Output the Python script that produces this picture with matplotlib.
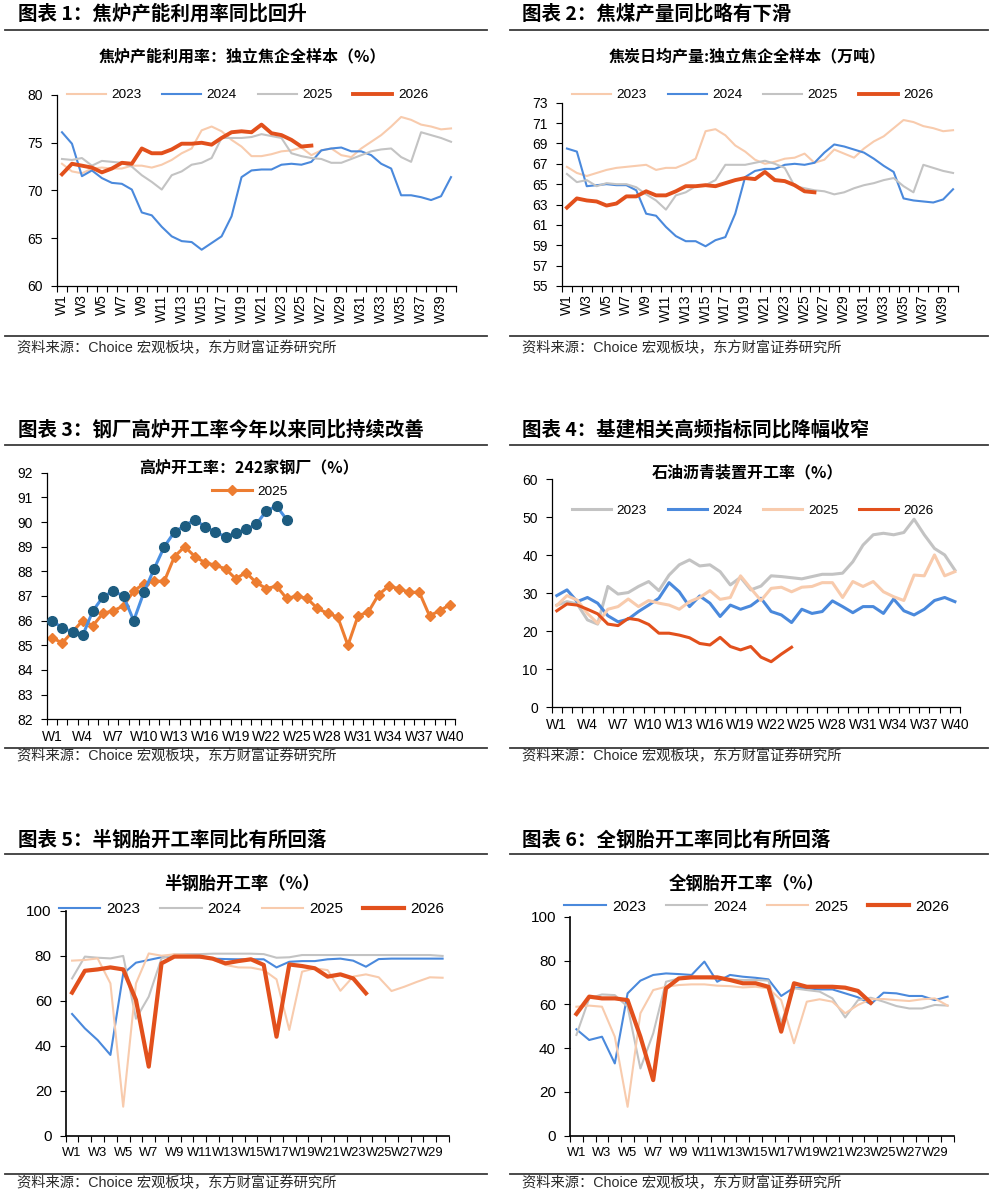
import matplotlib
matplotlib.use('Agg')
import matplotlib.pyplot as plt
from matplotlib.lines import Line2D
import numpy as np

# ---------------- DATA ----------------
weeks40 = ["W%d" % i for i in range(1, 41)]
weeks30 = ["W%d" % i for i in range(1, 31)]

# Chart 1: coke oven utilisation (%)
coke_util_2023 = [72.8, 72.0, 71.8, 72.3, 72.4, 72.3, 72.3, 72.6, 72.6, 72.4,
                  72.7, 73.2, 73.9, 74.4, 76.3, 76.7, 76.2, 75.3, 74.6, 73.6,
                  73.6, 73.8, 74.1, 74.2, 74.5, 73.7, 74.2, 74.4, 73.7, 73.5,
                  74.4, 75.1, 75.8, 76.7, 77.7, 77.4, 76.9, 76.7, 76.4, 76.5]
coke_util_2024 = [76.1, 74.9, 71.5, 72.1, 71.3, 70.8, 70.7, 70.1, 67.7, 67.4,
                  66.2, 65.2, 64.7, 64.6, 63.8, 64.5, 65.2, 67.3, 71.4, 72.1,
                  72.2, 72.2, 72.7, 72.8, 72.7, 73.0, 74.2, 74.4, 74.5, 74.1,
                  74.1, 73.7, 72.8, 72.3, 69.5, 69.5, 69.3, 69.0, 69.4, 71.4]
coke_util_2025 = [73.3, 73.2, 73.4, 72.6, 73.1, 73.0, 72.9, 72.5, 71.6, 70.9,
                  70.1, 71.6, 72.0, 72.7, 72.9, 73.4, 75.5, 75.5, 75.5, 75.6,
                  75.9, 75.7, 75.5, 73.9, 73.6, 73.4, 73.3, 72.9, 72.9, 73.3,
                  73.7, 74.1, 74.3, 74.4, 73.5, 73.0, 76.1, 75.8, 75.5, 75.1]
coke_util_2026 = [71.7, 72.8, 72.6, 72.4, 71.9, 72.3, 72.9, 72.8, 74.4, 73.9,
                  73.9, 74.3, 74.9, 74.9, 75.0, 74.8, 75.5, 76.1, 76.2, 76.1,
                  76.9, 76.0, 75.8, 75.3, 74.6, 74.7]

# Chart 2: coke daily output (10k t)
coke_out_2023 = [66.7, 66.1, 65.8, 66.1, 66.4, 66.6, 66.7, 66.8, 66.9, 66.4,
                 66.6, 66.6, 67.0, 67.5, 70.2, 70.4, 69.8, 68.8, 68.2, 67.4,
                 67.0, 67.2, 67.5, 67.6, 68.0, 67.1, 67.4, 68.4, 68.0, 67.6,
                 68.5, 69.2, 69.7, 70.5, 71.3, 71.1, 70.7, 70.5, 70.2, 70.3]
coke_out_2024 = [68.5, 68.2, 64.8, 64.9, 65.0, 64.9, 64.9, 64.4, 62.1, 61.9,
                 60.8, 59.9, 59.4, 59.4, 58.9, 59.5, 59.8, 62.1, 65.7, 66.3,
                 66.5, 66.5, 66.9, 67.0, 66.9, 67.1, 68.1, 68.9, 68.7, 68.4,
                 68.1, 67.5, 66.8, 66.2, 63.6, 63.4, 63.3, 63.2, 63.5, 64.5]
coke_out_2025 = [66.0, 65.2, 65.4, 64.8, 65.1, 65.0, 65.0, 64.7, 64.0, 63.4,
                 62.5, 63.9, 64.2, 64.8, 64.9, 65.4, 66.9, 66.9, 66.9, 67.1,
                 67.3, 67.0, 66.6, 64.8, 64.6, 64.4, 64.3, 64.0, 64.2, 64.6,
                 64.9, 65.1, 65.4, 65.6, 64.8, 64.2, 66.9, 66.6, 66.3, 66.1]
coke_out_2026 = [62.7, 63.6, 63.4, 63.3, 62.9, 63.1, 63.8, 63.8, 64.3, 63.9,
                 63.9, 64.3, 64.8, 64.8, 64.9, 64.8, 65.1, 65.4, 65.6, 65.5,
                 66.2, 65.4, 65.3, 64.9, 64.3, 64.2]

# Chart 3: blast furnace operating rate, 242 mills (%)
bf_2025 = [85.3, 85.1, 85.55, 86.0, 85.8, 86.3, 86.4, 86.6, 87.2, 87.5,
           87.6, 87.6, 88.6, 89.0, 88.6, 88.35, 88.25, 88.1, 87.7, 87.95,
           87.55, 87.3, 87.4, 86.9, 87.0, 86.9, 86.5, 86.3, 86.15, 85.0,
           86.2, 86.35, 87.05, 87.4, 87.3, 87.15, 87.15, 86.2, 86.4, 86.65]
bf_2026 = [86.0, 85.7, 85.55, 85.4, 86.4, 86.97, 87.2, 87.0, 86.0, 87.15,
           88.1, 89.0, 89.6, 89.85, 90.1, 89.8, 89.6, 89.4, 89.55, 89.7,
           89.9, 90.45, 90.65, 90.1]

# Chart 4: asphalt plant operating rate (%)
asph_2023 = [26.9, 27.8, 27.2, 23.0, 21.9, 31.8, 29.8, 30.2, 31.8, 33.1,
             30.7, 34.8, 37.5, 38.8, 37.2, 37.5, 35.7, 32.2, 34.2, 30.9,
             31.9, 34.6, 34.4, 34.1, 33.8, 34.4, 35.0, 35.0, 35.3, 38.3,
             42.7, 45.4, 45.8, 45.4, 46.0, 49.5, 45.4, 41.8, 40.1, 36.1]
asph_2024 = [29.4, 30.9, 27.8, 28.9, 27.4, 24.1, 22.5, 23.2, 25.2, 26.9,
             28.7, 32.8, 30.4, 26.5, 29.3, 27.4, 23.9, 26.9, 25.8, 26.7,
             28.7, 25.2, 24.3, 22.3, 25.8, 24.7, 25.2, 28.0, 26.5, 24.9,
             26.5, 26.5, 24.7, 28.5, 25.4, 24.3, 25.8, 28.1, 28.9, 27.8]
asph_2025 = [26.8, 29.4, 28.2, 24.7, 22.1, 25.8, 26.5, 28.5, 26.5, 28.1,
             27.4, 26.9, 25.8, 27.8, 28.9, 30.7, 28.4, 28.9, 34.6, 31.3,
             28.1, 31.3, 31.6, 30.4, 31.6, 31.8, 32.8, 32.8, 28.9, 33.1,
             31.8, 33.1, 30.4, 29.1, 28.1, 34.8, 34.6, 40.1, 34.6, 35.7]
asph_2026 = [25.4, 27.2, 26.9, 25.8, 24.6, 21.9, 21.5, 23.4, 23.0, 21.8,
             19.5, 19.5, 19.0, 18.3, 16.8, 16.4, 18.4, 16.0, 15.1, 16.0,
             13.2, 12.0, 14.0, 15.8]

# Chart 5: semi-steel tyre operating rate (%)
semi_2023 = [54.1, 47.7, 42.5, 35.9, 72.0, 76.9, 78.1, 79.3, 79.6, 79.6,
             79.3, 78.7, 78.5, 78.4, 78.4, 78.4, 74.8, 77.3, 77.6, 77.6,
             78.4, 78.7, 77.8, 75.1, 78.5, 78.7, 78.7, 78.7, 78.7, 78.7]
semi_2024 = [69.9, 79.6, 79.1, 78.8, 79.9, 52.0, 61.8, 78.8, 80.6, 80.7,
             80.7, 80.9, 80.9, 80.9, 80.9, 80.7, 79.1, 79.3, 80.3, 80.3,
             80.3, 80.3, 80.3, 80.3, 80.3, 80.3, 80.3, 80.3, 80.3, 79.9]
semi_2025 = [77.8, 78.1, 78.8, 67.7, 12.9, 67.7, 81.0, 80.0, 80.6, 80.3,
             79.6, 78.4, 75.9, 74.8, 74.7, 73.6, 69.5, 47.0, 72.9, 74.4,
             73.6, 64.4, 70.7, 71.7, 70.4, 64.3, 66.2, 68.4, 70.4, 70.2]
semi_2026 = [63.6, 73.3, 73.9, 74.8, 73.9, 60.3, 30.7, 76.6, 79.6, 79.6,
             79.6, 78.7, 76.6, 77.6, 78.4, 75.9, 44.0, 76.1, 75.4, 74.4,
             70.7, 71.7, 69.9, 63.3]

# Chart 6: all-steel tyre operating rate (%)
allst_2023 = [48.6, 43.7, 45.2, 33.0, 65.0, 70.8, 73.4, 74.1, 73.8, 73.4,
              79.5, 70.3, 73.4, 72.6, 72.1, 71.4, 63.8, 67.6, 67.3, 66.8,
              66.8, 65.0, 63.2, 60.1, 65.3, 65.0, 63.8, 63.8, 61.9, 63.5]
allst_2024 = [46.0, 62.7, 64.5, 64.2, 58.9, 30.7, 46.7, 70.3, 71.8, 72.3,
              72.1, 71.8, 71.4, 71.1, 71.1, 70.8, 51.6, 67.3, 66.5, 65.8,
              62.7, 54.0, 61.9, 63.0, 61.2, 59.2, 58.1, 58.1, 59.7, 59.4]
allst_2025 = [58.9, 59.4, 58.9, 45.2, 13.2, 55.9, 66.5, 68.0, 68.8, 69.1,
              69.1, 68.5, 68.3, 67.7, 68.0, 67.3, 61.9, 42.2, 61.2, 62.3,
              61.2, 55.9, 59.7, 62.3, 62.4, 61.9, 61.5, 62.3, 62.7, 59.4]
allst_2026 = [55.6, 63.5, 62.7, 62.7, 61.9, 45.2, 25.4, 67.3, 71.8, 72.3,
              72.3, 72.3, 71.1, 69.6, 69.6, 68.0, 47.5, 69.6, 68.0, 68.0,
              68.0, 67.6, 66.1, 60.7]

# ---------------- STYLE ----------------
PEACH = '#F8CBAD'
BLUE = '#4A89DC'
GRAY = '#C3C3C3'
RED = '#E2501C'
ORANGE = '#ED7D31'
TEAL = '#1D5C80'
BLUE3 = '#4A90E2'

CJK = ['Noto Sans CJK SC', 'DejaVu Sans']
LAT = ['Liberation Sans', 'Noto Sans CJK SC', 'DejaVu Sans']
plt.rcParams['font.family'] = LAT

W, H = 997, 1198
fig = plt.figure(figsize=(W / 100, H / 100), dpi=100)
fig.patch.set_facecolor('white')


def rect(x0, yt, x1, yb):
    return [x0 / W, 1 - yb / H, (x1 - x0) / W, (yb - yt) / H]


def ftext(x, y, s, **kw):
    fig.text(x / W, 1 - y / H, s, **kw)


def hline(x0, x1, y, lw=1.3, color='#3a3a3a'):
    fig.add_artist(Line2D([x0 / W, x1 / W], [1 - y / H, 1 - y / H],
                          transform=fig.transFigure, color=color, lw=lw))


def style_axes(ax, n, labels, step, ylim, yticks, xfs=10, yfs=10, rot=0, xpad=4, slw=0.9):
    for s in ['top', 'right']:
        ax.spines[s].set_visible(False)
    for s in ['left', 'bottom']:
        ax.spines[s].set_color('black')
        ax.spines[s].set_linewidth(slw)
    ax.set_xlim(-0.5, n - 0.5)
    ax.set_ylim(*ylim)
    ax.set_yticks(yticks)
    pos = list(range(0, n, step))
    ax.set_xticks(pos)
    ax.set_xticklabels([labels[i] for i in pos], rotation=rot, fontsize=xfs)
    ax.set_xticks(np.arange(-0.5, n, 1.0), minor=True)
    ax.tick_params(axis='x', which='major', length=0, pad=xpad + 4)
    ax.tick_params(axis='x', which='minor', length=4, width=0.8, direction='out')
    ax.tick_params(axis='y', which='major', length=4, width=0.8, direction='out',
                   labelsize=yfs, pad=6)
    ax.patch.set_alpha(0)


# ---------------- HEADERS / FOOTERS ----------------
head_kw = dict(fontsize=14, fontweight='bold', family=CJK, va='center', ha='left')
ftext(18, 14, '图表 1：焦炉产能利用率同比回升', **head_kw)
ftext(522, 14, '图表 2：焦煤产量同比略有下滑', **head_kw)
ftext(18, 430, '图表 3：钢厂高炉开工率今年以来同比持续改善', **head_kw)
ftext(522, 430, '图表 4：基建相关高频指标同比降幅收窄', **head_kw)
ftext(18, 840, '图表 5：半钢胎开工率同比有所回落', **head_kw)
ftext(522, 840, '图表 6：全钢胎开工率同比有所回落', **head_kw)

for y in (30, 445, 854):
    hline(5, 487, y)
    hline(510, 988, y)
for y in (336, 748, 1174):
    hline(5, 487, y)
    hline(510, 988, y)

src = '资料来源：Choice 宏观板块，东方财富证券研究所'
src_kw = dict(fontsize=10.3, family=LAT, va='center', ha='left', color='#2a2a2a')
for x, y in ((17, 348), (522, 348), (17, 756), (522, 756), (17, 1183), (522, 1183)):
    ftext(x, y, src, **src_kw)

sub_kw = dict(fontsize=11.5, fontweight='bold', family=CJK, va='center', ha='center')
ftext(242, 56, '焦炉产能利用率：独立焦企全样本（%）', **sub_kw)
ftext(747, 56, '焦炭日均产量:独立焦企全样本（万吨）', **sub_kw)
ftext(249, 467, '高炉开工率：242家钢厂（%）', **sub_kw)
ftext(747, 472, '石油沥青装置开工率（%）', **sub_kw)
sub_kw2 = dict(sub_kw, fontsize=12.5)
ftext(242, 884, '半钢胎开工率（%）', **sub_kw2)
ftext(747, 884, '全钢胎开工率（%）', **sub_kw2)


def legend(ax, x, y, fs=9.7, hl=2.9, cs=1.55):
    leg = ax.legend(loc='center', bbox_to_anchor=(x, y), ncol=4, frameon=False,
                    fontsize=fs, handlelength=hl, handletextpad=0.4,
                    columnspacing=cs, borderaxespad=0, borderpad=0)
    return leg


# ---------------- CHART 1 ----------------
ax1 = fig.add_axes(rect(57, 95, 456, 286))
x = np.arange(40)
ax1.plot(x, coke_util_2023, color=PEACH, lw=1.5, label='2023')
ax1.plot(x, coke_util_2024, color=BLUE, lw=1.5, label='2024')
ax1.plot(x, coke_util_2025, color=GRAY, lw=1.5, label='2025')
ax1.plot(np.arange(len(coke_util_2026)), coke_util_2026, color=RED, lw=2.8, label='2026')
style_axes(ax1, 40, weeks40, 2, (60, 80), [60, 65, 70, 75, 80], rot=90, xpad=2)
legend(ax1, 0.477, 1.0)

# ---------------- CHART 2 ----------------
ax2 = fig.add_axes(rect(562, 102.7, 958, 286))
ax2.plot(x, coke_out_2023, color=PEACH, lw=1.5, label='2023')
ax2.plot(x, coke_out_2024, color=BLUE, lw=1.5, label='2024')
ax2.plot(x, coke_out_2025, color=GRAY, lw=1.5, label='2025')
ax2.plot(np.arange(len(coke_out_2026)), coke_out_2026, color=RED, lw=2.8, label='2026')
style_axes(ax2, 40, weeks40, 2, (55, 73), list(range(55, 74, 2)), rot=90, xpad=2)
legend(ax2, 0.482, 1.042)

# ---------------- CHART 3 ----------------
ax3 = fig.add_axes(rect(47, 472.7, 455, 719.3))
ax3.plot(x, bf_2025, color=ORANGE, lw=2.2, marker='D', markersize=5.5,
         markerfacecolor=ORANGE, markeredgecolor=ORANGE, label='2025')
ax3.plot(np.arange(len(bf_2026)), bf_2026, color=BLUE3, lw=2.2, marker='o',
         markersize=7, markerfacecolor=TEAL, markeredgecolor=TEAL, zorder=3)
style_axes(ax3, 40, weeks40, 3, (82, 92), list(range(82, 93)))
ax3.legend(loc='center', bbox_to_anchor=(0.4975, 0.922), frameon=False, fontsize=9.7,
           handlelength=3.0, handletextpad=0.4, numpoints=1, borderaxespad=0, borderpad=0)

# ---------------- CHART 4 ----------------
ax4 = fig.add_axes(rect(551.7, 479.3, 960, 707.3))
ax4.plot(x, asph_2023, color=GRAY, lw=2.2, label='2023')
ax4.plot(x, asph_2024, color=BLUE, lw=2.2, label='2024')
ax4.plot(x, asph_2025, color=PEACH, lw=2.2, label='2025')
ax4.plot(np.arange(len(asph_2026)), asph_2026, color=RED, lw=2.2, label='2026')
style_axes(ax4, 40, weeks40, 3, (0, 60), list(range(0, 61, 10)))
legend(ax4, 0.493, 0.862)

# ---------------- CHART 5 ----------------
x30 = np.arange(30)
ax5 = fig.add_axes(rect(65.7, 910.7, 449, 1135.7))
ax5.plot(x30, semi_2023, color=BLUE, lw=1.5, label='2023')
ax5.plot(x30, semi_2024, color=GRAY, lw=1.5, label='2024')
ax5.plot(x30, semi_2025, color=PEACH, lw=1.5, label='2025')
ax5.plot(np.arange(len(semi_2026)), semi_2026, color=RED, lw=3.0, label='2026')
style_axes(ax5, 30, weeks30, 2, (0, 100), list(range(0, 101, 20)), xfs=9.3, yfs=11, slw=1.2)
legend(ax5, 0.485, 1.0076, fs=11, hl=2.7, cs=1.3)

# ---------------- CHART 6 ----------------
ax6 = fig.add_axes(rect(570, 916.7, 954, 1135.7))
ax6.plot(x30, allst_2023, color=BLUE, lw=1.5, label='2023')
ax6.plot(x30, allst_2024, color=GRAY, lw=1.5, label='2024')
ax6.plot(x30, allst_2025, color=PEACH, lw=1.5, label='2025')
ax6.plot(np.arange(len(allst_2026)), allst_2026, color=RED, lw=3.0, label='2026')
style_axes(ax6, 30, weeks30, 2, (0, 100), list(range(0, 101, 20)), xfs=9.3, yfs=11, slw=1.2)
legend(ax6, 0.487, 1.046, fs=11, hl=2.7, cs=1.3)

fig.savefig('out.png', dpi=100, facecolor='white')
